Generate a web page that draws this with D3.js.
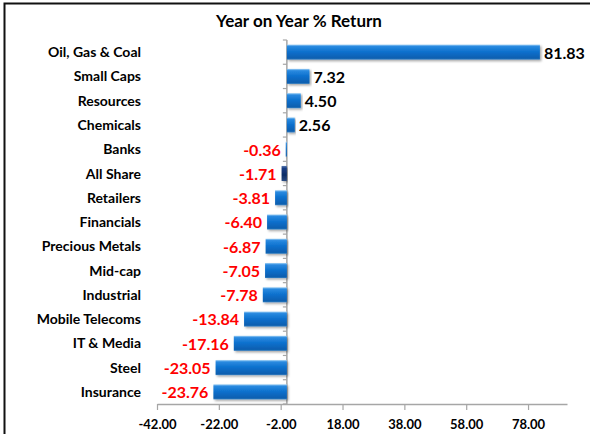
<!DOCTYPE html>
<html>
<head>
<meta charset="utf-8">
<script src="https://cdn.jsdelivr.net/npm/d3@7"></script>
<style>
  body { margin: 0; background: #fff; }
  svg text { font-family: Lato, "Open Sans", sans-serif; }
</style>
</head>
<body>
<div id="chart"></div>
<script>
// ---------- Data ----------
const categories = [
  "Oil, Gas & Coal", "Small Caps", "Resources", "Chemicals", "Banks",
  "All Share", "Retailers", "Financials", "Precious Metals", "Mid-cap",
  "Industrial", "Mobile Telecoms", "IT & Media", "Steel", "Insurance"
];
const returns = [81.83, 7.32, 4.50, 2.56, -0.36, -1.71, -3.81, -6.40, -6.87, -7.05, -7.78, -13.84, -17.16, -23.05, -23.76];
const highlight = ["All Share"];
const xTicks = [-42, -22, -2, 18, 38, 58, 78];

const rows = categories.map((c, i) => ({ name: c, value: returns[i] }));
// plain hyphen minus like the original
const fmt2 = v => d3.format(".2f")(v).replace("\u2212", "-");

// ---------- Layout ----------
const W = 590, H = 434;
const M = { t: 40, r: 23, b: 30, l: 157 };
const w = W - M.l - M.r, h = H - M.t - M.b;

const svg = d3.select("#chart").append("svg")
  .attr("width", W).attr("height", H);

// gradients + shadow
const defs = svg.append("defs");
function grad(id, stops) {
  const g = defs.append("linearGradient").attr("id", id)
    .attr("x1", 0).attr("y1", 0).attr("x2", 0).attr("y2", 1);
  stops.forEach(([o, c]) => g.append("stop").attr("offset", o).attr("stop-color", c));
}
grad("gBlue", [[0, "#9fd0f5"], [0.12, "#2a8ae0"], [0.5, "#0a6fcc"], [0.9, "#085fb0"], [1, "#3a7fbf"]]);
grad("gNavy", [[0, "#5a7ab0"], [0.15, "#1a3f85"], [0.6, "#0d2c66"], [1, "#2a4a80"]]);
const shadow = defs.append("filter").attr("id", "shadow")
  .attr("x", "-5%").attr("y", "-20%").attr("width", "115%").attr("height", "160%");
shadow.append("feDropShadow").attr("dx", 1.5).attr("dy", 1.5)
  .attr("stdDeviation", 0.8).attr("flood-color", "#000").attr("flood-opacity", 0.35);

// frame
svg.append("rect")
  .attr("x", 4.5).attr("y", 3.5).attr("width", W + 10).attr("height", H + 10)
  .attr("fill", "none").attr("stroke", "#111").attr("stroke-width", 2);

// title
svg.append("text")
  .attr("x", 299).attr("y", 27)
  .attr("text-anchor", "middle")
  .style("font-size", "17px").style("font-weight", "bold")
  .text("Year on Year % Return");

const g = svg.append("g").attr("transform", `translate(${M.l},${M.t})`);

// ---------- Scales ----------
const x = d3.scaleLinear().domain([-42, 90.6]).range([0, w]);
const y = d3.scaleBand().domain(categories).range([0, h]).paddingInner(0.38).paddingOuter(0.19);
const step = y.step();

// x axis
const xAxis = g.append("g")
  .attr("transform", `translate(0,${h})`)
  .call(d3.axisBottom(x).tickValues(xTicks).tickFormat(fmt2).tickSize(6).tickSizeOuter(0));
xAxis.select(".domain").attr("stroke", "#a6a6a6").attr("stroke-width", 1.5);
xAxis.selectAll(".tick line").attr("stroke", "#a6a6a6").attr("stroke-width", 1.2);
xAxis.selectAll(".tick text")
  .attr("dy", "1.2em")
  .style("font-size", "13px").style("font-weight", "bold").attr("fill", "#000");

// y axis line at zero with tick marks between categories
const yAxis = g.append("g").attr("transform", `translate(${x(0)},0)`);
yAxis.append("line")
  .attr("y1", 0).attr("y2", h)
  .attr("stroke", "#a6a6a6").attr("stroke-width", 1.5);
yAxis.selectAll("line.tk")
  .data(d3.range(categories.length + 1))
  .join("line")
  .attr("class", "tk")
  .attr("x1", -4).attr("x2", 0)
  .attr("y1", i => i * step).attr("y2", i => i * step)
  .attr("stroke", "#a6a6a6").attr("stroke-width", 1.2);

// category labels
g.selectAll("text.cat")
  .data(rows)
  .join("text")
  .attr("class", "cat")
  .attr("x", -16)
  .attr("y", d => y(d.name) + y.bandwidth() / 2)
  .attr("dy", "0.36em")
  .attr("text-anchor", "end")
  .style("font-size", "14px").style("font-weight", "bold")
  .text(d => d.name);

// bars
g.selectAll("rect.bar")
  .data(rows)
  .join("rect")
  .attr("class", "bar")
  .attr("x", d => x(Math.min(0, d.value)))
  .attr("y", d => y(d.name))
  .attr("width", d => Math.abs(x(d.value) - x(0)))
  .attr("height", y.bandwidth())
  .attr("fill", d => highlight.includes(d.name) ? "url(#gNavy)" : "url(#gBlue)")
  .attr("filter", "url(#shadow)");

// value labels
g.selectAll("text.val")
  .data(rows)
  .join("text")
  .attr("class", "val")
  .attr("x", d => d.value >= 0 ? x(d.value) + 4 : x(d.value) - 5)
  .attr("y", d => y(d.name) + y.bandwidth() / 2)
  .attr("dy", "0.4em")
  .attr("text-anchor", d => d.value >= 0 ? "start" : "end")
  .attr("fill", d => d.value >= 0 ? "#000" : "#ff0000")
  .style("font-size", "16px").style("font-weight", "bold")
  .text(d => fmt2(d.value));
</script>
</body>
</html>
